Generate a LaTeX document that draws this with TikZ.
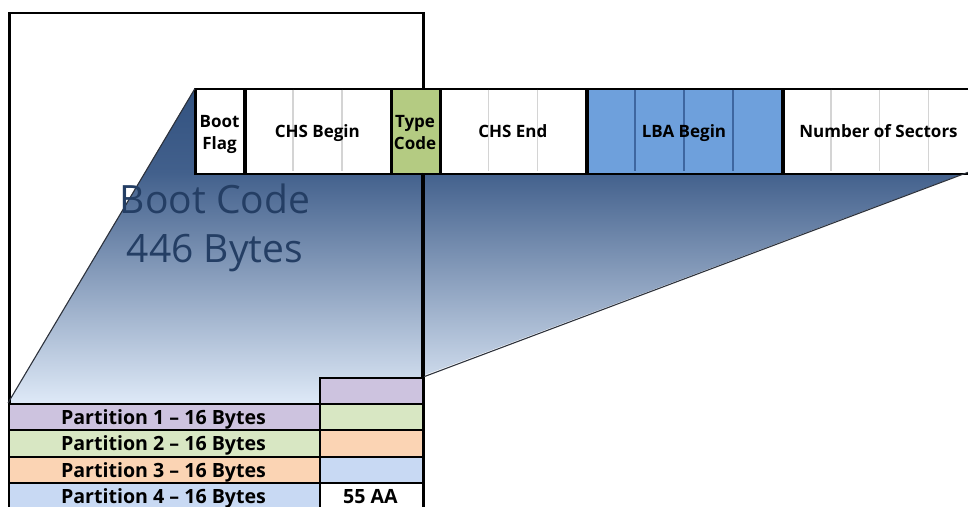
\documentclass[tikz,border=0pt]{standalone}
\usepackage{fontspec}
\setmainfont{Open Sans}
\definecolor{gtop}{RGB}{50,82,128}
\definecolor{gmid}{RGB}{66,96,140}
\definecolor{gbot}{RGB}{222,233,247}
\definecolor{typegreen}{RGB}{180,203,130}
\definecolor{lbablue}{RGB}{110,160,220}
\definecolor{lbadiv}{RGB}{62,102,160}
\definecolor{bytegrey}{RGB}{212,212,212}
\definecolor{ppurple}{RGB}{205,195,223}
\definecolor{pgreen}{RGB}{216,231,195}
\definecolor{porange}{RGB}{251,212,180}
\definecolor{pblue}{RGB}{200,217,243}
\definecolor{boottext}{RGB}{36,62,100}
\definecolor{diagline}{RGB}{45,50,60}
\begin{document}
\begin{tikzpicture}[x=1pt,y=-1pt,
  cellbox/.style={draw=black, line width=1.8pt, inner sep=0pt, anchor=north west, minimum height=84pt},
  lbl/.style={font=\fontsize{17}{21.5}\selectfont\bfseries, text=black, inner sep=0pt, align=center},
  ptbox/.style={draw=black, line width=2pt, inner sep=0pt, anchor=north west, minimum height=26.3pt},
  ptlbl/.style={font=\fontsize{19.6}{23}\selectfont\bfseries, text=black, inner sep=0pt, anchor=base},
  bytediv/.style={line width=1.6pt, draw=bytegrey},
  lbadivline/.style={line width=1.4pt, draw=lbadiv},
  bigtext/.style={font=\fontsize{39}{49}\selectfont, text=boottext, inner sep=0pt, anchor=base},
  diag/.style={line width=1.1pt, draw=diagline}
]
\useasboundingbox (0,0) rectangle (968,506);
\clip (0,0) rectangle (968,506);
% gradient funnel
\begin{scope}
  \clip (195,88) -- (968,88) -- (968,172) -- (422,376) -- (422,403) -- (8,403) -- cycle;
  \shade[top color=gtop, bottom color=gmid] (0,88) rectangle (968,172.5);
  \shade[top color=gmid, bottom color=gbot] (0,172) rectangle (968,403);
\end{scope}
% MBR outline
\node[draw=black, line width=2.6pt, inner sep=0pt, anchor=north west, minimum width=414pt, minimum height=520pt] (mbr) at (8,11.5) {};
% top bar cells
\node[cellbox, fill=white, minimum width=48.9pt] (bf) at (195,88.5) {};
\node[cellbox, fill=white, minimum width=146.7pt] (chsb) at (243.9,88.5) {};
\node[cellbox, fill=typegreen, minimum width=48.9pt] (tc) at (390.6,88.5) {};
\node[cellbox, fill=white, minimum width=146.7pt] (chse) at (439.5,88.5) {};
\node[cellbox, fill=lbablue, minimum width=195.6pt] (lba) at (586.2,88.5) {};
\node[cellbox, fill=white, minimum width=195.6pt] (ns) at (781.8,88.5) {};
% byte dividers
\draw[bytediv] (292.8,89.6) -- (292.8,171.4);
\draw[bytediv] (341.7,89.6) -- (341.7,171.4);
\draw[bytediv] (488.4,89.6) -- (488.4,171.4);
\draw[bytediv] (537.3,89.6) -- (537.3,171.4);
\draw[lbadivline] (635.1,89.6) -- (635.1,171.4);
\draw[lbadivline] (684.0,89.6) -- (684.0,171.4);
\draw[lbadivline] (732.9,89.6) -- (732.9,171.4);
\draw[bytediv] (830.7,89.6) -- (830.7,171.4);
\draw[bytediv] (879.6,89.6) -- (879.6,171.4);
\draw[bytediv] (928.5,89.6) -- (928.5,171.4);
% redraw cell borders over dividers
\foreach \n in {bf,chsb,tc,chse,lba,ns} { \draw[line width=1.8pt] (\n.north west) rectangle (\n.south east); }
% partition table
\node[ptbox, fill=ppurple, minimum width=103pt] (p0) at (319,376.7) {};
\node[ptbox, fill=ppurple, minimum width=311pt] (p1l) at (8,403) {};
\node[ptbox, fill=pgreen, minimum width=103pt] (p1r) at (319,403) {};
\node[ptbox, fill=pgreen, minimum width=311pt] (p2l) at (8,429.3) {};
\node[ptbox, fill=porange, minimum width=103pt] (p2r) at (319,429.3) {};
\node[ptbox, fill=porange, minimum width=311pt] (p3l) at (8,455.6) {};
\node[ptbox, fill=pblue, minimum width=103pt] (p3r) at (319,455.6) {};
\node[ptbox, fill=pblue, minimum width=311pt] (p4l) at (8,481.9) {};
\node[ptbox, fill=white, minimum width=103pt] (p4r) at (319,481.9) {};
% funnel edges
\coordinate (nsend) at (968,172.3);
\draw[diag] (bf.north west) -- (p1l.north west);
\draw[diag] (nsend) -- (p0.north east);
% redraw MBR right edge over the funnel
\draw[line width=2.6pt] (422,172.5) -- (422,376.7);
% labels
\node[lbl, anchor=north] (bft) at (219.5,115.4) {Boot\\Flag};
\node[lbl, anchor=north] (tct) at (415,115.4) {Type\\Code};
\node[lbl, anchor=base] (chsbt) at (317.3,137.7) {CHS Begin};
\node[lbl, anchor=base] (chset) at (512.9,137.7) {CHS End};
\node[lbl, anchor=base] (lbat) at (684,137.7) {LBA Begin};
\node[lbl, anchor=base] (nst) at (878.5,137.7) {Number of Sectors};
\node[bigtext] (bc1) at (215,213) {Boot Code};
\node[bigtext] (bc2) at (215,262) {446 Bytes};
\node[ptlbl] (t1) at (163.5,424.5) {Partition 1 – 16 Bytes};
\node[ptlbl] (t2) at (163.5,450.8) {Partition 2 – 16 Bytes};
\node[ptlbl] (t3) at (163.5,477.1) {Partition 3 – 16 Bytes};
\node[ptlbl] (t4) at (163.5,503.2) {Partition 4 – 16 Bytes};
\node[ptlbl] (t5) at (370.5,503.2) {55 AA};
\end{tikzpicture}
\end{document}
